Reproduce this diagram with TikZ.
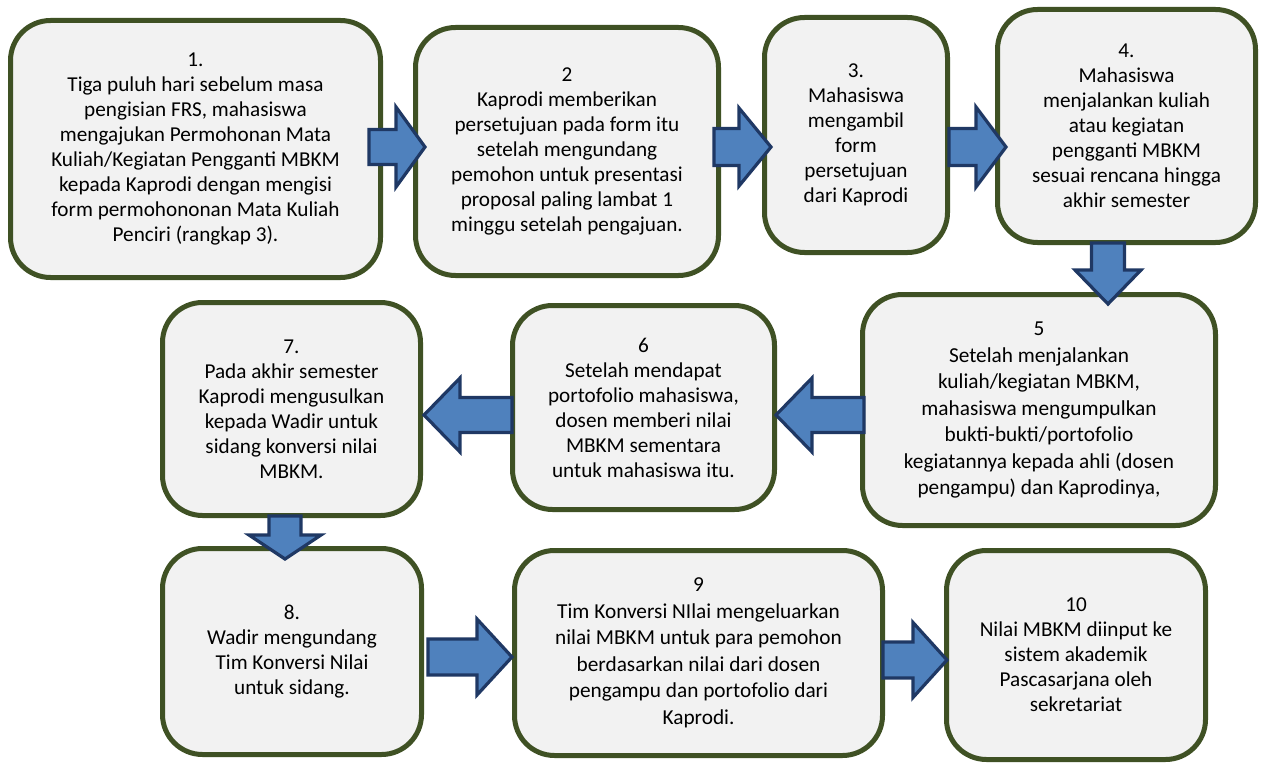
\documentclass[tikz,border=0pt]{standalone}
\usepackage{fontspec}
\setmainfont{Carlito}
\usetikzlibrary{calc}
\definecolor{boxfill}{HTML}{F2F2F2}
\definecolor{boxline}{HTML}{3F5124}
\definecolor{arrfill}{HTML}{4F81BD}
\definecolor{arrline}{HTML}{1F3864}
\tikzset{
  stepbox/.style={draw=boxline, line width=5pt, fill=boxfill, rounded corners=40pt,
    align=center, inner sep=0pt, font=\fontsize{21.2}{25}\selectfont, text=black},
  widebox/.style={stepbox, font=\fontsize{21.3}{26.5}\selectfont},
  blockarrow/.style={draw=arrline, fill=arrfill, line width=3.2pt, line join=miter},
}
% horizontal block arrow: tail x, head base x, tip x, centre y, half shaft, half head
\newcommand{\harrow}[6]{%
  \draw[blockarrow] (#1,#4-#5) -- (#2,#4-#5) -- (#2,#4-#6) -- (#3,#4) -- (#2,#4+#6) -- (#2,#4+#5) -- (#1,#4+#5) -- cycle;}
% vertical block arrow: tail y, head base y, tip y, centre x, half shaft, half head
\newcommand{\varrow}[6]{%
  \draw[blockarrow] (#4-#5,#1) -- (#4-#5,#2) -- (#4-#6,#2) -- (#4,#3) -- (#4+#6,#2) -- (#4+#5,#2) -- (#4+#5,#1) -- cycle;}
\begin{document}
\begin{tikzpicture}[x=1pt,y=-1pt]
\useasboundingbox[fill=white] (0,0) rectangle (1261,765);

\node[stepbox, minimum width=370pt, minimum height=257pt] (b1) at (195.5,149)
  {1.\\Tiga puluh hari sebelum masa\\pengisian FRS, mahasiswa\\mengajukan Permohonan Mata\\Kuliah/Kegiatan Pengganti MBKM\\kepada Kaprodi dengan mengisi\\form permohononan Mata Kuliah\\Penciri (rangkap 3).};
\node[stepbox, minimum width=303pt, minimum height=248pt] (b2) at (567,151.5)
  {2\\Kaprodi memberikan\\persetujuan pada form itu\\setelah mengundang\\pemohon untuk presentasi\\proposal paling lambat 1\\minggu setelah pengajuan.};
\node[stepbox, minimum width=183pt, minimum height=235pt] (b3) at (856,135)
  {3.\\Mahasiswa\\mengambil\\form\\persetujuan\\dari Kaprodi};
\node[stepbox, minimum width=258pt, minimum height=233pt] (b4) at (1126.5,126)
  {4.\\Mahasiswa\\menjalankan kuliah\\atau kegiatan\\pengganti MBKM\\sesuai rencana hingga\\akhir semester};
\node[widebox, minimum width=353pt, minimum height=231pt] (b5) at (1039,410)
  {5\\Setelah menjalankan\\kuliah/kegiatan MBKM,\\mahasiswa mengumpulkan\\bukti-bukti/portofolio\\kegiatannya kepada ahli (dosen\\pengampu) dan Kaprodinya,};
\node[stepbox, minimum width=262pt, minimum height=204pt] (b6) at (643.5,407.5)
  {6\\Setelah mendapat\\portofolio mahasiswa,\\dosen memberi nilai\\MBKM sementara\\untuk mahasiswa itu.};
\node[stepbox, minimum width=258pt, minimum height=213pt] (b7) at (291.5,409)
  {7.\\Pada akhir semester\\Kaprodi mengusulkan\\kepada Wadir untuk\\sidang konversi nilai\\MBKM.};
\node[stepbox, minimum width=259pt, minimum height=206pt] (b8) at (292,651.5)
  {8.\\Wadir mengundang\\Tim Konversi Nilai\\untuk sidang.};
\node[widebox, minimum width=368pt, minimum height=205pt] (b9) at (698.5,653)
  {9\\Tim Konversi NIlai mengeluarkan\\nilai MBKM untuk para pemohon\\berdasarkan nilai dari dosen\\pengampu dan portofolio dari\\Kaprodi.};
\node[stepbox, minimum width=259pt, minimum height=209pt] (b10) at (1076,655)
  {10\\Nilai MBKM diinput ke\\sistem akademik\\Pascasarjana oleh\\sekretariat};

% block arrows
\harrow{369}{396}{425}{147}{17.5}{40}
\harrow{714}{739}{771}{147}{18.5}{39}
\harrow{949}{976}{1006}{147}{18.5}{40}
\varrow{243}{270}{304}{1108}{16.5}{33}
\harrow{864}{812}{776}{415}{17.5}{37}
\harrow{512}{460}{424}{415}{17.5}{37}
\varrow{516}{535}{559}{285}{16}{36}
\harrow{428}{477}{512}{657}{18}{38}
\harrow{883}{913}{947}{660}{18}{37.5}
\end{tikzpicture}
\end{document}
